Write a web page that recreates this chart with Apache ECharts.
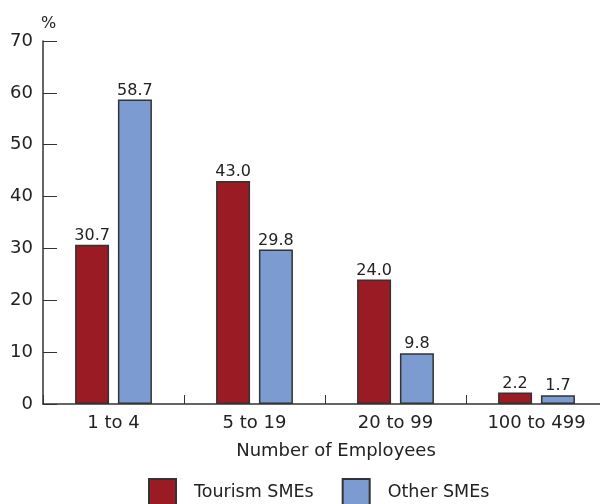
<!DOCTYPE html>
<html>
<head>
<meta charset="utf-8">
<script src="https://cdn.jsdelivr.net/npm/echarts@6/dist/echarts.min.js"></script>
<style>
  html, body { margin: 0; padding: 0; background: #fff; }
  #chart { width: 600px; height: 504px; }
</style>
</head>
<body>
<div id="chart"></div>
<script>
// Share of SMEs by number of employees, in percent
const categories = ['1 to 4', '5 to 19', '20 to 99', '100 to 499'];
const tourismSMEs = [30.7, 43.0, 24.0, 2.2];
const otherSMEs = [58.7, 29.8, 9.8, 1.7];
const yTicks = { min: 0, max: 70, interval: 10 };

const FONT = 'DejaVu Sans';
const TEXT = '#222';
const AXIS = '#333';

const chart = echarts.init(document.getElementById('chart'), null, { renderer: 'canvas' });

const labelStyle = {
  show: true,
  position: 'top',
  distance: 1,
  fontFamily: FONT,
  fontSize: 16,
  color: TEXT,
  formatter: p => p.value.toFixed(1)
};

chart.setOption({
  animation: false,
  textStyle: { fontFamily: FONT },
  // the last category runs slightly past the right edge of the canvas
  grid: { left: 43, top: 41, bottom: 100, width: 564, containLabel: false, outerBoundsMode: 'none' },
  legend: {
    data: ['Tourism SMEs', 'Other SMEs'],
    top: 478,
    left: 148,
    padding: 0,
    itemWidth: 27,
    itemHeight: 27,
    itemGap: 28,
    icon: 'rect',
    textStyle: { fontFamily: FONT, fontSize: 17.5, color: TEXT, padding: [0, 0, 0, 13] }
  },
  xAxis: {
    type: 'category',
    data: categories,
    name: 'Number of Employees',
    nameLocation: 'middle',
    nameGap: 38,
    nameTextStyle: { fontFamily: FONT, fontSize: 18, color: TEXT, padding: [0, 0, 0, 22] },
    axisLine: { lineStyle: { color: AXIS, width: 1.5 } },
    axisTick: { show: true, inside: true, length: 9, lineStyle: { color: AXIS } },
    axisLabel: { fontFamily: FONT, fontSize: 18, color: TEXT, margin: 10 }
  },
  yAxis: {
    type: 'value',
    min: yTicks.min,
    max: yTicks.max,
    interval: yTicks.interval,
    name: '%',
    nameLocation: 'end',
    nameGap: 9,
    nameTextStyle: { fontFamily: FONT, fontSize: 16, color: TEXT, align: 'left', padding: [0, 0, 0, -2] },
    axisLine: { show: true, lineStyle: { color: AXIS, width: 1.5 } },
    axisTick: { show: true, inside: true, length: 14, lineStyle: { color: AXIS } },
    axisLabel: { fontFamily: FONT, fontSize: 18, color: TEXT, margin: 10 },
    splitLine: { show: false }
  },
  series: [
    {
      name: 'Tourism SMEs',
      type: 'bar',
      data: tourismSMEs,
      barWidth: 34,
      barGap: '26%',
      itemStyle: { color: '#9b1b24', borderColor: '#333', borderWidth: 1.5 },
      label: labelStyle
    },
    {
      name: 'Other SMEs',
      type: 'bar',
      data: otherSMEs,
      barWidth: 34,
      itemStyle: { color: '#7b9bd1', borderColor: '#333', borderWidth: 1.5 },
      label: labelStyle
    }
  ]
});
</script>
</body>
</html>
